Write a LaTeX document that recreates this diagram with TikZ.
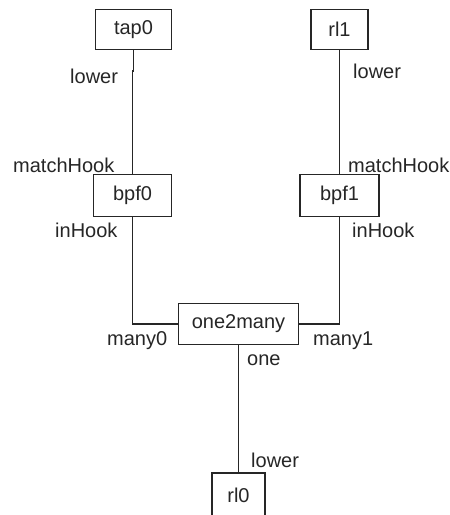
\documentclass[tikz,border=0pt]{standalone}
\usepackage{fontspec}
\setmainfont{Liberation Sans}
\begin{document}
\begin{tikzpicture}[x=1pt,y=-1pt,
  box/.style={draw=black!85,line width=1.1pt,inner sep=0pt,font=\fontsize{20}{22}\selectfont,text=black!85},
  lbl/.style={anchor=base west,inner sep=0pt,font=\fontsize{20}{22}\selectfont,text=black!85},
  wire/.style={draw=black!85,line width=1.2pt}]
\useasboundingbox (0,0) rectangle (450,515);
\clip (0,0) rectangle (450,515);
\node[box,minimum width=76pt,minimum height=40pt] (tap0) at (133.5,29.5) {tap0};
\node[box,minimum width=57pt,minimum height=40pt] (rl1) at (339.5,29.5) {rl1};
\node[box,minimum width=78pt,minimum height=42pt] (bpf0) at (132.5,195.5) {bpf0};
\node[box,minimum width=79pt,minimum height=42pt] (bpf1) at (339.5,195.5) {bpf1};
\node[box,minimum width=120pt,minimum height=41pt] (one2many) at (238.5,324) {one2many};
\node[box,minimum width=53pt,minimum height=44pt] (rl0) at (238.5,495) {rl0};
\draw[wire] (tap0.south) -- ++(0,21) -| (bpf0.north);
\draw[wire] (rl1.south) -- (bpf1.north);
\draw[wire] (bpf0.south) |- (one2many.west);
\draw[wire] (bpf1.south) |- (one2many.east);
\draw[wire] (one2many.south) -- (rl0.north);
\node[lbl] (l1) at (70,83) {lower};
\node[lbl] (l2) at (353,78) {lower};
\node[lbl] (m0) at (13,172) {matchHook};
\node[lbl] (m1) at (348,172) {matchHook};
\node[lbl] (i0) at (55,237) {inHook};
\node[lbl] (i1) at (352,237) {inHook};
\node[lbl] (n0) at (107,345) {many0};
\node[lbl] (n1) at (313,345) {many1};
\node[lbl] (o) at (247,365) {one};
\node[lbl] (l3) at (251,467) {lower};
\end{tikzpicture}
\end{document}
